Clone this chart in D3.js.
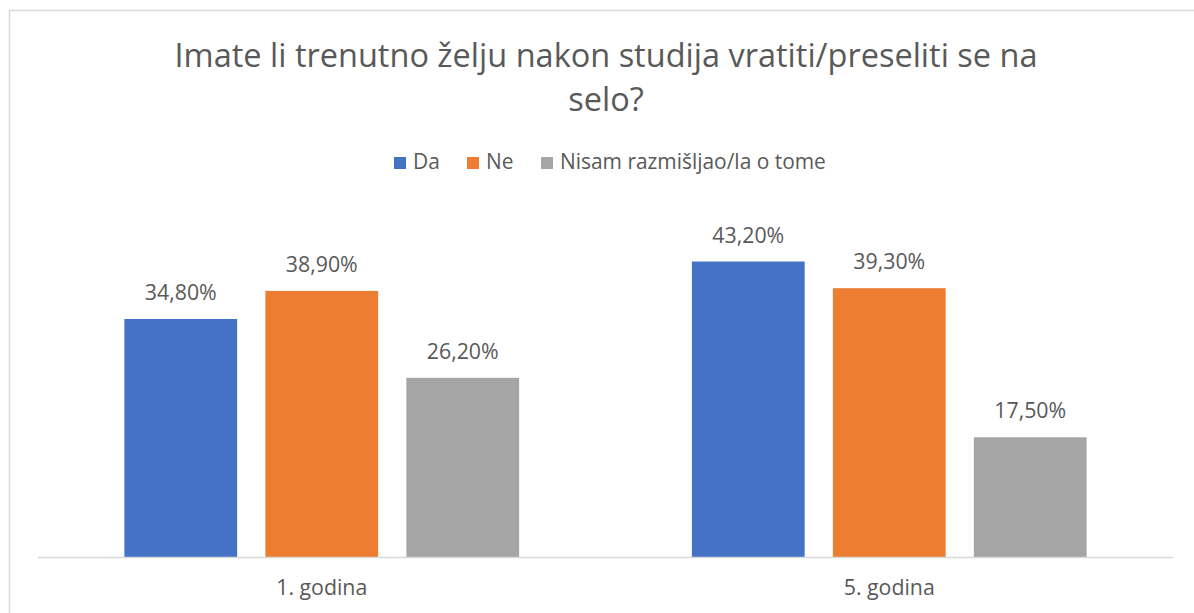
<!DOCTYPE html>
<html><head><meta charset="utf-8">
<script src="https://cdn.jsdelivr.net/npm/d3@7"></script>
<style>body{margin:0;background:#fff}svg{display:block}text{font-family:"Open Sans","Noto Sans",sans-serif;fill:#595959}</style>
</head><body>
<script>
const categories = ["1. godina", "5. godina"];
const seriesNames = ["Da", "Ne", "Nisam razmišljao/la o tome"];
const valuesDa = [34.8, 43.2];
const valuesNe = [38.9, 39.3];
const valuesNisam = [26.2, 17.5];
const valueLabelsDa = ["34,80%", "43,20%"];
const valueLabelsNe = ["38,90%", "39,30%"];
const valueLabelsNisam = ["26,20%", "17,50%"];
const titleLines = ["Imate li trenutno želju nakon studija vratiti/preseliti se na", "selo?"];
const colors = ["#4472C4", "#ED7D31", "#A5A5A5"];

const series = [valuesDa, valuesNe, valuesNisam];
const labels = [valueLabelsDa, valueLabelsNe, valueLabelsNisam];

const W = 1194, H = 613;
const svg = d3.select("body").append("svg").attr("width", W).attr("height", H);

function fit(sel, target) {
  const w = sel.node().getComputedTextLength();
  const fs = parseFloat(sel.attr("font-size"));
  sel.attr("font-size", fs * target / w);
}

// frame
svg.append("rect").attr("x", 9.5).attr("y", 10.5).attr("width", 1200).attr("height", 700)
  .attr("fill", "none").attr("stroke", "#d9d9d9").attr("stroke-width", 1.5);

// title
const t1 = svg.append("text").attr("x", 606).attr("y", 67).attr("text-anchor", "middle").attr("font-size", 32).text(titleLines[0]);
fit(t1, 863);
const tfs = t1.attr("font-size");
svg.append("text").attr("x", 606).attr("y", 111).attr("text-anchor", "middle").attr("font-size", tfs).text(titleLines[1]);

// scales
const x0 = d3.scaleBand().domain(categories).range([38, 1173]).paddingInner(0).paddingOuter(0);
const x1 = d3.scaleBand().domain(d3.range(3)).range([0, x0.bandwidth()]).paddingInner(0.2).paddingOuter(0.6125);
const y = d3.scaleLinear().domain([0, 50]).range([557, 215]);

// bars
categories.forEach((c, ci) => {
  series.forEach((s, si) => {
    const bx = x0(c) + x1(si);
    svg.append("rect").attr("x", bx).attr("y", y(s[ci])).attr("width", x1.bandwidth())
      .attr("height", y(0) - y(s[ci])).attr("fill", colors[si]);
  });
});

// axis line
svg.append("line").attr("x1", 38).attr("x2", 1173).attr("y1", 557.5).attr("y2", 557.5)
  .attr("stroke", "#d9d9d9").attr("stroke-width", 1.5);

// value labels
let labelFs = null;
categories.forEach((c, ci) => {
  series.forEach((s, si) => {
    const cx = x0(c) + x1(si) + x1.bandwidth() / 2;
    const t = svg.append("text").attr("x", cx).attr("y", y(s[ci]) - 19).attr("text-anchor", "middle")
      .attr("font-size", labelFs || 20).text(labels[si][ci]);
    if (!labelFs) { fit(t, 72); labelFs = t.attr("font-size"); }
  });
});

// category labels
categories.forEach((c) => {
  svg.append("text").attr("x", x0(c) + x0.bandwidth() / 2).attr("y", 595).attr("text-anchor", "middle")
    .attr("font-size", labelFs).text(c);
});

// legend
const legX = [394, 467, 541];
let legFs = null;
[2, 0, 1].forEach((i) => {
  svg.append("rect").attr("x", legX[i]).attr("y", 157).attr("width", 12).attr("height", 12).attr("fill", colors[i]);
  const t = svg.append("text").attr("x", legX[i] + 19).attr("y", 169).attr("font-size", legFs || 19).text(seriesNames[i]);
  if (!legFs) { fit(t, 266); legFs = t.attr("font-size"); }
});
</script>
</body></html>
